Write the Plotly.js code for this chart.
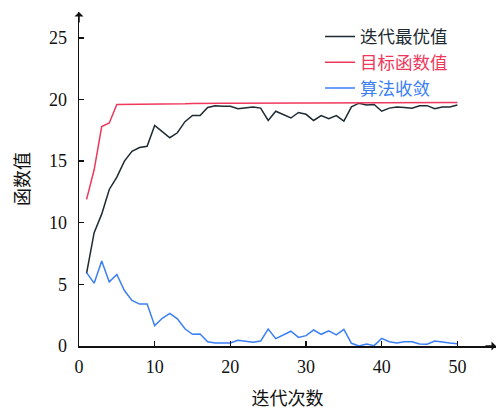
<!DOCTYPE html>
<html>
<head>
<meta charset="utf-8">
<script src="https://cdn.plot.ly/plotly-3.0.1.min.js"></script>
<style>html,body{margin:0;padding:0;background:#fff;}#chart{width:497px;height:409px;}</style>
</head>
<body>
<div id="chart"></div>
<script>
var iterations = [];
for (var i = 1; i <= 50; i++) iterations.push(i);

var bestValue = [5.9, 9.2, 10.7, 12.7, 13.7, 15.0, 15.8, 16.1, 16.2, 17.9,
                 17.4, 16.9, 17.3, 18.2, 18.7, 18.7, 19.35, 19.5, 19.45, 19.45,
                 19.25, 19.35, 19.4, 19.3, 18.3, 19.05, 18.8, 18.5, 18.95, 18.8,
                 18.3, 18.7, 18.45, 18.7, 18.25, 19.4, 19.7, 19.55, 19.6, 19.05,
                 19.3, 19.4, 19.35, 19.3, 19.5, 19.5, 19.25, 19.4, 19.4, 19.55];

var objectiveValue = [11.9, 14.3, 17.8, 18.1, 19.6, 19.6, 19.6, 19.6, 19.6, 19.6,
                      19.6, 19.62, 19.64, 19.66, 19.68, 19.7, 19.7, 19.7, 19.7, 19.7,
                      19.7, 19.72, 19.73, 19.74, 19.75, 19.75, 19.75, 19.75, 19.75, 19.75,
                      19.75, 19.75, 19.75, 19.75, 19.75, 19.75, 19.75, 19.75, 19.75, 19.75,
                      19.75, 19.75, 19.75, 19.75, 19.75, 19.75, 19.75, 19.75, 19.75, 19.75];

var convergence = [5.95, 5.1, 6.9, 5.2, 5.8, 4.5, 3.7, 3.4, 3.4, 1.65,
                   2.25, 2.65, 2.2, 1.4, 0.95, 0.97, 0.35, 0.24, 0.24, 0.24,
                   0.46, 0.35, 0.3, 0.4, 1.38, 0.6, 0.9, 1.2, 0.7, 0.84,
                   1.3, 0.95, 1.24, 0.9, 1.35, 0.22, 0.0, 0.16, 0.03, 0.62,
                   0.35, 0.24, 0.35, 0.35, 0.16, 0.14, 0.4, 0.3, 0.25, 0.19];

var seriesNames = ['迭代最优值', '目标函数值', '算法收敛'];
var seriesColors = ['#1e2a32', '#f0375c', '#3a7ff6'];
var xTicks = [0, 10, 20, 30, 40, 50];
var yTicks = [0, 5, 10, 15, 20, 25];

var fontFam = '"Liberation Serif", "Times New Roman", "Noto Sans CJK SC", serif';

var seriesData = [bestValue, objectiveValue, convergence];
var traces = seriesData.map(function (ys, k) {
  return {
    x: iterations, y: ys, type: 'scatter', mode: 'lines',
    name: '<span style="color:' + seriesColors[k] + '">' + seriesNames[k] + '</span>',
    line: {color: seriesColors[k], width: 1.5}
  };
});

var layout = {
  width: 497, height: 409,
  margin: {l: 79, r: 1, t: 12, b: 63},
  paper_bgcolor: '#fff', plot_bgcolor: '#fff',
  font: {family: fontFam, size: 18, color: '#111'},
  showlegend: true,
  legend: {x: 0.578, y: 0.98, xanchor: 'left', yanchor: 'top',
           bgcolor: 'rgba(0,0,0,0)', font: {size: 17.5, family: fontFam},
           tracegroupgap: 0, itemwidth: 30},
  xaxis: {
    range: [0, 55.1], tickvals: xTicks, ticktext: xTicks.map(String),
    ticks: 'inside', ticklen: 5, tickwidth: 1.3, tickcolor: '#111',
    showline: true, linecolor: '#111', linewidth: 1.5,
    showgrid: false, zeroline: false, ticklabelstandoff: 4,
    tickfont: {size: 18, family: fontFam},
    title: {text: '迭代次数', font: {size: 18, family: fontFam}, standoff: 18}
  },
  yaxis: {
    range: [0, 27.1], tickvals: yTicks, ticktext: yTicks.map(String),
    ticks: 'inside', ticklen: 5, tickwidth: 1.3, tickcolor: '#111',
    showline: true, linecolor: '#111', linewidth: 1.5,
    showgrid: false, zeroline: false, ticklabelstandoff: 7,
    tickfont: {size: 18, family: fontFam},
    title: {text: '函数值', font: {size: 18, family: fontFam}, standoff: 14}
  },
  annotations: [
    {xref: 'paper', yref: 'paper', x: 1, y: 0, ax: -12, ay: 0, axref: 'pixel', ayref: 'pixel',
     showarrow: true, arrowhead: 1, arrowsize: 1, arrowwidth: 1.5, arrowcolor: '#111', text: ''},
    {xref: 'paper', yref: 'paper', x: 0, y: 1, ax: 0, ay: 12, axref: 'pixel', ayref: 'pixel',
     showarrow: true, arrowhead: 1, arrowsize: 1, arrowwidth: 1.5, arrowcolor: '#111', text: ''}
  ]
};

Plotly.newPlot('chart', traces, layout, {displayModeBar: false, staticPlot: true});
</script>
</body>
</html>
